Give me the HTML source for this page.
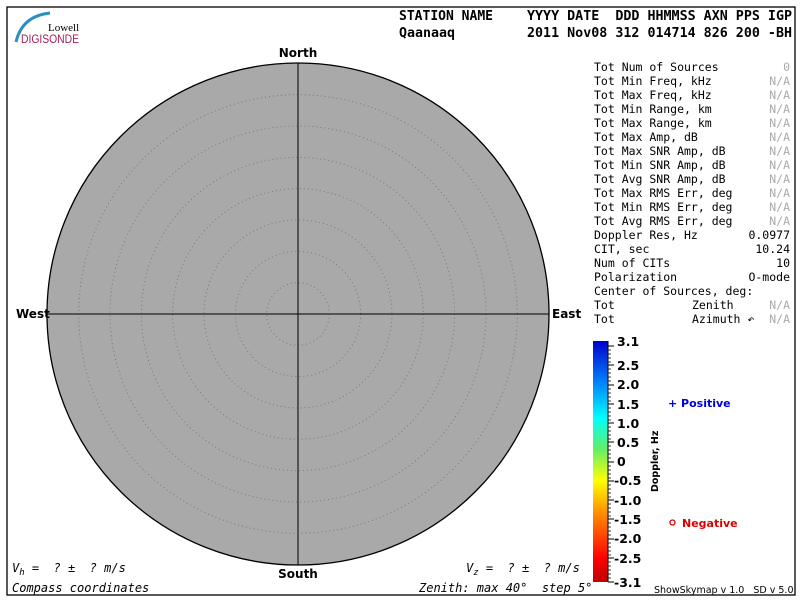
<!DOCTYPE html>
<html><head><meta charset="utf-8"><style>
body{margin:0;background:#fff;}
.m{font-family:"DejaVu Sans Mono","Liberation Mono",monospace;}
.s{font-family:"DejaVu Sans","Liberation Sans",sans-serif;}
</style></head><body>
<svg width="800" height="600" xmlns="http://www.w3.org/2000/svg">
<defs>
<linearGradient id="g" x1="0" y1="1" x2="0" y2="0">
<stop offset="0" stop-color="#c00000"/>
<stop offset="0.1" stop-color="#ff0000"/>
<stop offset="0.3" stop-color="#ff9900"/>
<stop offset="0.42" stop-color="#ffff00"/>
<stop offset="0.55" stop-color="#66ee66"/>
<stop offset="0.68" stop-color="#00ffff"/>
<stop offset="0.82" stop-color="#0088ff"/>
<stop offset="1" stop-color="#0000cc"/>
</linearGradient>
</defs>
<rect x="7" y="7" width="788" height="588" fill="none" stroke="#000" stroke-width="1.3"/>
<path d="M16 42 Q22 16 50 13" fill="none" stroke="#2a8fc0" stroke-width="3"/>
<text x="48" y="31" font-size="11" style="font-family:'Liberation Serif',serif">Lowell</text>
<text x="21" y="43" font-size="12" fill="#a0205a" style="font-family:'Liberation Sans',sans-serif" textLength="58" lengthAdjust="spacingAndGlyphs">DIGISONDE</text>
<g font-size="13" font-weight="bold" class="m">
<text x="399" y="20" textLength="94" lengthAdjust="spacingAndGlyphs">STATION NAME</text>
<text x="527" y="20" textLength="265" lengthAdjust="spacingAndGlyphs">YYYY DATE&#160; DDD HHMMSS AXN PPS IGP</text>
<text x="399" y="37" textLength="56" lengthAdjust="spacingAndGlyphs">Qaanaaq</text>
<text x="527" y="37" textLength="265" lengthAdjust="spacingAndGlyphs">2011 Nov08 312 014714 826 200 -BH</text>
</g>
<circle cx="298" cy="314" r="251" fill="#a9a9a9" stroke="#000" stroke-width="1.3"/>
<g fill="none" stroke="#777" stroke-width="1" stroke-dasharray="1,3">
<circle cx="298" cy="314" r="31.3"/><circle cx="298" cy="314" r="62.6"/><circle cx="298" cy="314" r="94"/>
<circle cx="298" cy="314" r="125.3"/><circle cx="298" cy="314" r="156.6"/><circle cx="298" cy="314" r="188"/><circle cx="298" cy="314" r="219.3"/>
</g>
<line x1="298" y1="63" x2="298" y2="565" stroke="#000"/>
<line x1="47" y1="314" x2="549" y2="314" stroke="#000"/>
<g font-size="12" font-weight="bold" class="s">
<text x="298" y="57" text-anchor="middle">North</text>
<text x="298" y="578" text-anchor="middle">South</text>
<text x="16" y="318">West</text>
<text x="552" y="318">East</text>
</g>
<g font-size="11.5" class="m">
<text x="594" y="71">Tot Num of Sources</text>
<text x="594" y="85">Tot Min Freq, kHz</text>
<text x="594" y="99">Tot Max Freq, kHz</text>
<text x="594" y="113">Tot Min Range, km</text>
<text x="594" y="127">Tot Max Range, km</text>
<text x="594" y="141">Tot Max Amp, dB</text>
<text x="594" y="155">Tot Max SNR Amp, dB</text>
<text x="594" y="169">Tot Min SNR Amp, dB</text>
<text x="594" y="183">Tot Avg SNR Amp, dB</text>
<text x="594" y="197">Tot Max RMS Err, deg</text>
<text x="594" y="211">Tot Min RMS Err, deg</text>
<text x="594" y="225">Tot Avg RMS Err, deg</text>
<text x="594" y="239">Doppler Res, Hz</text>
<text x="594" y="253">CIT, sec</text>
<text x="594" y="267">Num of CITs</text>
<text x="594" y="281">Polarization</text>
<text x="594" y="295">Center of Sources, deg:</text>
<text x="594" y="309">Tot</text><text x="692" y="309">Zenith</text>
<text x="594" y="323">Tot</text><text x="692" y="323">Azimuth ↶</text>
<g text-anchor="end" fill="#aaa">
<text x="790" y="71">0</text><text x="790" y="85">N/A</text><text x="790" y="99">N/A</text><text x="790" y="113">N/A</text>
<text x="790" y="127">N/A</text><text x="790" y="141">N/A</text><text x="790" y="155">N/A</text><text x="790" y="169">N/A</text>
<text x="790" y="183">N/A</text><text x="790" y="197">N/A</text><text x="790" y="211">N/A</text><text x="790" y="225">N/A</text>
<text x="790" y="309">N/A</text><text x="790" y="323">N/A</text>
</g>
<g text-anchor="end">
<text x="790" y="239">0.0977</text><text x="790" y="253">10.24</text><text x="790" y="267">10</text><text x="790" y="281">O-mode</text>
</g>
</g>
<rect x="593" y="341" width="15" height="241" fill="url(#g)"/>
<line x1="608" y1="341" x2="608" y2="582" stroke="#000"/>
<g stroke="#000">
<line x1="608" y1="346" x2="614" y2="346"/><line x1="608" y1="365" x2="614" y2="365"/><line x1="608" y1="385" x2="614" y2="385"/>
<line x1="608" y1="404" x2="614" y2="404"/><line x1="608" y1="423" x2="614" y2="423"/><line x1="608" y1="442" x2="614" y2="442"/>
<line x1="608" y1="462" x2="614" y2="462"/><line x1="608" y1="481" x2="614" y2="481"/><line x1="608" y1="500" x2="614" y2="500"/>
<line x1="608" y1="519" x2="614" y2="519"/><line x1="608" y1="539" x2="614" y2="539"/><line x1="608" y1="558" x2="614" y2="558"/>
<line x1="608" y1="582" x2="614" y2="582"/>
</g>
<path stroke="#000" stroke-width="0.8" d="M608 350h3M608 354h3M608 358h3M608 362h3M608 369h3M608 373h3M608 377h3M608 381h3M608 389h3M608 393h3M608 397h3M608 401h3M608 408h3M608 412h3M608 416h3M608 420h3M608 427h3M608 431h3M608 435h3M608 439h3M608 446h3M608 450h3M608 454h3M608 458h3M608 466h3M608 470h3M608 474h3M608 478h3M608 485h3M608 489h3M608 493h3M608 497h3M608 504h3M608 508h3M608 512h3M608 516h3M608 523h3M608 527h3M608 531h3M608 535h3M608 543h3M608 547h3M608 551h3M608 555h3M608 562h3M608 566h3M608 570h3M608 574h3M608 578h3"/>
<g font-size="12.5" font-weight="bold" class="s">
<text x="617" y="346">3.1</text><text x="617" y="370">2.5</text><text x="617" y="389">2.0</text>
<text x="617" y="409">1.5</text><text x="617" y="428">1.0</text><text x="617" y="447">0.5</text>
<text x="617" y="466">0</text><text x="614" y="485">-0.5</text><text x="614" y="505">-1.0</text>
<text x="614" y="524">-1.5</text><text x="614" y="543">-2.0</text><text x="614" y="563">-2.5</text>
<text x="614" y="587">-3.1</text>
<text transform="translate(658,492) rotate(-90)" font-size="9.5">Doppler, Hz</text>
<text x="668" y="407" fill="#0000dd" font-size="11">+ Positive</text>
<text x="682" y="527" fill="#dd0000" font-size="11">Negative</text>
</g>
<circle cx="672.5" cy="522.5" r="2.5" fill="none" stroke="#dd0000" stroke-width="1.3"/>
<g font-size="12" font-style="italic" class="m">
<text x="12" y="572">V<tspan font-size="9" dy="3">h</tspan><tspan dy="-3">&#160;=&#160;&#160;?&#160;±&#160;&#160;?&#160;m/s</tspan></text>
<text x="466" y="572">V<tspan font-size="9" dy="3">z</tspan><tspan dy="-3">&#160;=&#160;&#160;?&#160;±&#160;&#160;?&#160;m/s</tspan></text>
<text x="12" y="592">Compass coordinates</text>
<text x="419" y="592">Zenith: max 40°&#160; step 5°</text>
</g>
<text x="654" y="593" font-size="9.5" class="s">ShowSkymap v 1.0&#160;&#160; SD v 5.0</text>
</svg>
</body></html>
